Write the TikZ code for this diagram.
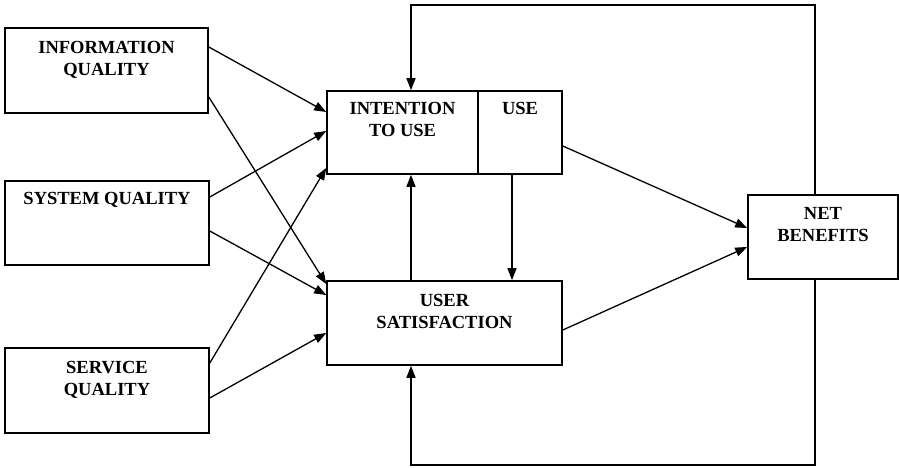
\documentclass[tikz,border=0pt]{standalone}
\usepackage{fontspec}
\setmainfont{Liberation Serif}
\usetikzlibrary{positioning,arrows.meta}

\tikzset{
  box/.style={draw,line width=1.6pt,inner sep=0pt},
  lbl/.style={inner sep=0pt,align=center,font=\bfseries\fontsize{18.5}{22}\selectfont},
  arr/.style={line width=1.3pt,-{Triangle[length=12pt,width=9pt]}}
}

\begin{document}
\begin{tikzpicture}[x=1pt,y=-1pt]
\useasboundingbox (0,0) rectangle (899,468);

\node[box,minimum width=203pt,minimum height=85pt] (iq) at (106.5,70.5) {};
\node[box,minimum width=204pt,minimum height=84pt] (sq) at (107,223) {};
\node[box,minimum width=204pt,minimum height=85pt] (svq) at (107,390.5) {};
\node[box,minimum width=151pt,minimum height=83pt] (iu) at (402.5,132.5) {};
\node[box,minimum width=84pt,minimum height=83pt] (use) at (520,132.5) {};
\node[box,minimum width=235pt,minimum height=84pt] (us) at (444.5,323) {};
\node[box,minimum width=150pt,minimum height=84pt] (nb) at (823,237) {};

\node[lbl,below=14pt of iq.north] {INFORMATION\\QUALITY};
\node[lbl,below=12pt of sq.north] {SYSTEM QUALITY};
\node[lbl,below=14pt of svq.north] {SERVICE\\QUALITY};
\node[lbl,below=12pt of iu.north] {INTENTION\\TO USE};
\node[lbl,below=12pt of use.north] {USE};
\node[lbl,below=14pt of us.north] {USER\\SATISFACTION};
\node[lbl,below=13pt of nb.north] {NET\\BENEFITS};

\foreach \from/\fs/\to/\ts in {iq/23.5/iu/20.5, iq/-26.5/us/39, sq/26/iu/1.5, sq/-8/us/28, svq/27.5/iu/-35.5, svq/-7.5/us/-10, use/-13.5/nb/9, us/-7/nb/-10}{
    \draw[arr] ([yshift=\fs pt]\from.east) -- ([yshift=\ts pt]\to.west);
}

\draw[arr] ([xshift=-33.5pt]us.north) -- ([xshift=8.5pt]iu.south);
\draw[arr] ([xshift=-8pt]use.south) -- ([xshift=67.5pt]us.north);

\coordinate (fbtop) at (411,5);
\coordinate (fbbot) at (411,465);
\draw[arr] ([xshift=-8pt]nb.north) |- (fbtop) -- ([xshift=8.5pt]iu.north);
\draw[arr] ([xshift=-8pt]nb.south) |- (fbbot) -- ([xshift=-33.5pt]us.south);
\end{tikzpicture}
\end{document}
